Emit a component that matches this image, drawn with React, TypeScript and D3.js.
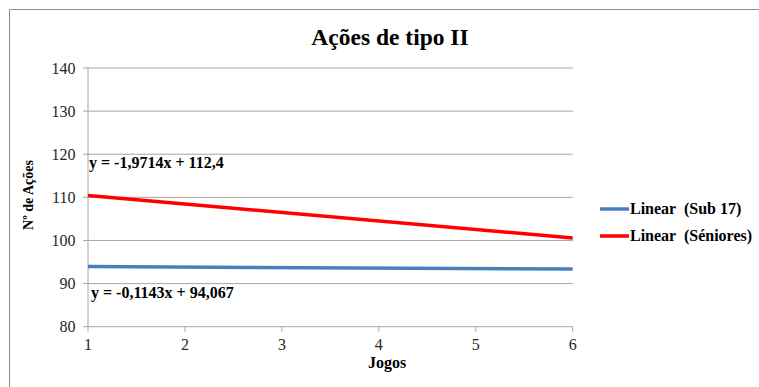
import React from "react";
import * as d3 from "d3";

const title = "Ações de tipo II";
const yTitle = "Nº de Ações";
const xTitle = "Jogos";
const xTicks = [1, 2, 3, 4, 5, 6];
const yTicks = [80, 90, 100, 110, 120, 130, 140];
const trendX = [1, 6];
const sub17 = [93.95, 93.38];
const seniores = [110.43, 100.57];
const seriesNames = ["Linear  (Sub 17)", "Linear  (Séniores)"];
const seriesColors = ["#4A7EBB", "#FF0000"];
const equations = ["y = -1,9714x + 112,4", "y = -0,1143x + 94,067"];

const font = "Liberation Serif, Times New Roman, serif";

export default function App() {
  const W = 759, H = 387;
  const x = d3.scaleLinear().domain([1, 6]).range([88, 572.7]);
  const y = d3.scaleLinear().domain([80, 140]).range([326.7, 68]);
  const line = d3.line<[number, number]>().x(d => x(d[0])).y(d => y(d[1]));
  const series = [sub17, seniores];
  const ts = (size: number, bold = false): React.CSSProperties => ({
    fontFamily: font, fontSize: size, fontWeight: bold ? 700 : 400, whiteSpace: "pre",
  });
  return (
    <svg width={W} height={H} style={{ position: "absolute", left: 0, top: 0 }}>
      <rect x={0} y={0} width={W} height={H} fill="#fff" />
      <path d={`M9.5,${H} V9.5 H${W}`} fill="none" stroke="#8c8c8c" strokeWidth={1} />
      <text x={390} y={45} textAnchor="middle" style={ts(23.5, true)}>{title}</text>
      {yTicks.map(t => (
        <g key={t}>
          {t !== 80 && <line x1={x(1)} x2={x(6)} y1={y(t)} y2={y(t)} stroke="#a6a6a6" strokeWidth={1} />}
          <line x1={x(1) - 5} x2={x(1)} y1={y(t)} y2={y(t)} stroke="#a6a6a6" />
          <text x={75.5} y={y(t) + 5.5} textAnchor="end" style={ts(16)} fill="#262626">{t}</text>
        </g>
      ))}
      <line x1={x(1)} x2={x(1)} y1={y(140)} y2={y(80)} stroke="#a6a6a6" />
      <line x1={x(1)} x2={x(6)} y1={y(80)} y2={y(80)} stroke="#a6a6a6" />
      {xTicks.map(t => (
        <g key={t}>
          <line x1={x(t)} x2={x(t)} y1={y(80)} y2={y(80) + 5} stroke="#a6a6a6" />
          <text x={x(t)} y={350} textAnchor="middle" style={ts(16)} fill="#262626">{t}</text>
        </g>
      ))}
      {series.map((s, i) => (
        <path key={i} d={line(trendX.map((v, j) => [v, s[j]] as [number, number])) || ""}
          fill="none" stroke={seriesColors[i]} strokeWidth={3.5} />
      ))}
      <text x={89} y={168} style={ts(16, true)}>{equations[0]}</text>
      <text x={91} y={298} style={ts(16, true)}>{equations[1]}</text>
      <text transform="translate(33,195) rotate(-90)" textAnchor="middle" style={ts(14, true)}>{yTitle}</text>
      <text x={387} y={368} textAnchor="middle" style={ts(16, true)}>{xTitle}</text>
      {seriesNames.map((n, i) => (
        <g key={n}>
          <line x1={600} x2={629} y1={209 + i * 27} y2={209 + i * 27} stroke={seriesColors[i]} strokeWidth={3.5} />
          <text x={630} y={214 + i * 27} style={ts(16, true)}>{n}</text>
        </g>
      ))}
    </svg>
  );
}
